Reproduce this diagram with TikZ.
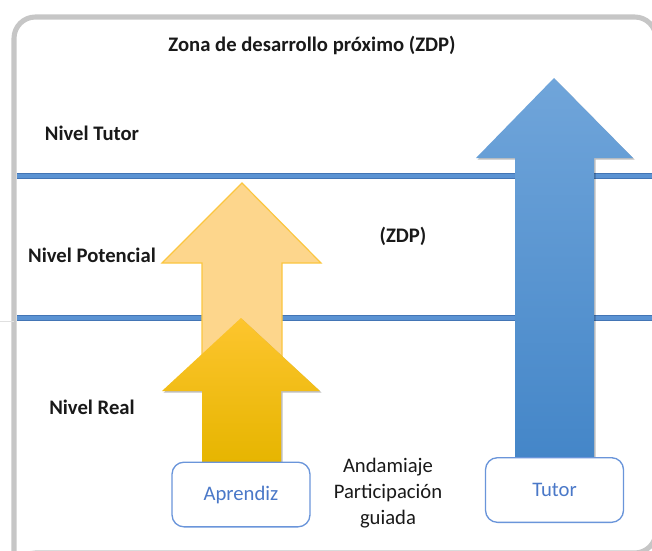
\documentclass[tikz,border=0pt]{standalone}
\usepackage{fontspec}
\setmainfont{Carlito}
\usetikzlibrary{shadows}
\definecolor{framegray}{HTML}{C6C6C6}
\definecolor{lineblue}{HTML}{5B93D3}
\definecolor{lineblueedge}{HTML}{4375B5}
\definecolor{boxblue}{HTML}{6A95DA}
\definecolor{textblue}{HTML}{4A78C8}
\definecolor{peach}{HTML}{FDD68C}
\definecolor{peachedge}{HTML}{FBC640}
\definecolor{goldtop}{HTML}{FDC52E}
\definecolor{goldmid}{HTML}{FFC305}
\definecolor{goldbot}{HTML}{E6B500}
\definecolor{bluetop}{HTML}{70A5DA}
\definecolor{bluemid}{HTML}{5499DA}
\definecolor{bluebot}{HTML}{4486C8}
\begin{document}
\begin{tikzpicture}[x=0.75pt,y=-0.75pt,
  lbl/.style={font=\bfseries\fontsize{15.5}{18}\selectfont, text=black!90},
  boxnode/.style={draw=boxblue, line width=1pt, rounded corners=9pt, fill=white,
    text=textblue, font=\fontsize{15.5}{18}\selectfont, minimum width=103.5pt, minimum height=48.5pt, inner sep=0pt},
  level/.style={line width=4.4pt, lineblueedge},
  levelin/.style={line width=2.4pt, lineblue},
  arrshadow/.style={drop shadow={shadow xshift=1.2pt, shadow yshift=-1.2pt, opacity=0.25, fill=black}}
]
\useasboundingbox (0,0) rectangle (652,550);
% frame
\draw[framegray, line width=3.8pt, rounded corners=16pt] (14,600) -- (14,17) -- (656,17) -- (656,553) -- (14,553) -- cycle;
% faint line left
\draw[black!12, line width=0.6pt] (0,321) -- (14,321);
% level lines
\draw[level] (17,176) -- (652,176);
\draw[levelin] (17,176) -- (652,176);
\draw[level] (17,318) -- (652,318);
\draw[levelin] (17,318) -- (652,318);
% light (potential) arrow
\path[fill=peach, draw=peachedge, line width=0.9pt]
  (242,183) -- (321,263) -- (282,263) -- (282,358) -- (202,358) -- (202,263) -- (162,263) -- cycle;
% gold (real) arrow
\path[arrshadow, top color=goldtop, middle color=goldmid, bottom color=goldbot]
  (241,318) -- (320,391) -- (281,391) -- (281,463) -- (202,463) -- (202,391) -- (162,391) -- cycle;
% blue (tutor) arrow
\path[arrshadow, top color=bluetop, middle color=bluemid, bottom color=bluebot]
  (554,78) -- (633,158) -- (594,158) -- (594,459) -- (515,459) -- (515,158) -- (476,158) -- cycle;
% texts
\node[lbl] (title) at (312,45) {Zona de desarrollo próximo (ZDP)};
\node[lbl] (tutorlvl) at (92,133) {Nivel Tutor};
\node[lbl] (potlvl) at (92,255) {Nivel Potencial};
\node[lbl] (zdp) at (403,236) {(ZDP)};
\node[lbl] (reallvl) at (92,407) {Nivel Real};
\node[font=\fontsize{15.5}{19.5}\selectfont, align=center, text=black!90] (anda) at (388,493)
  {Andamiaje\\Participación\\guiada};
% boxes
\node[boxnode] (aprendiz) at (241,494.5) {Aprendiz};
\node[boxnode] (tutor) at (554.5,490) {Tutor};
\end{tikzpicture}
\end{document}
